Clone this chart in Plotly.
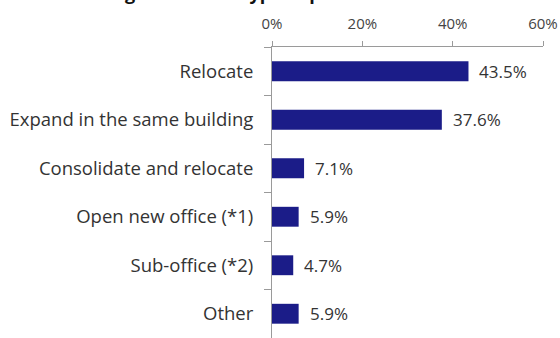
import plotly.graph_objects as go

# Share of respondents by type of plan
categories = [
    "Relocate",
    "Expand in the same building",
    "Consolidate and relocate",
    "Open new office (*1)",
    "Sub-office (*2)",
    "Other",
]
shares = [43.5, 37.6, 7.1, 5.9, 4.7, 5.9]
tick_values = [0, 20, 40, 60]
tick_labels = ["0%", "20%", "40%", "60%"]

BAR_COLOR = "#1b1c88"
TEXT_COLOR = "#333333"
AXIS_COLOR = "#9a9a9a"
FONT = "Open Sans"

fig = go.Figure(
    go.Bar(
        x=shares,
        y=categories,
        orientation="h",
        marker=dict(color=BAR_COLOR, line=dict(width=0)),
        width=0.41,
        hoverinfo="skip",
    )
)

# value labels to the right of each bar
for cat, val in zip(categories, shares):
    fig.add_annotation(
        x=val, y=cat, xref="x", yref="y",
        text=f"{val:.1f}%", showarrow=False,
        xanchor="left", yanchor="middle", xshift=9,
        font=dict(family=FONT, size=17, color=TEXT_COLOR),
    )

# heading, mostly above the top edge of the page
fig.add_annotation(
    x=-0.72, y=1, xref="paper", yref="paper",
    text="<b>Changes in office: type of plan</b>", showarrow=False,
    xanchor="left", yanchor="bottom", yshift=40,
    font=dict(family=FONT, size=18, color="#111111"),
)

fig.update_layout(
    width=560, height=338,
    margin=dict(l=272, r=17, t=47, b=0),
    paper_bgcolor="white", plot_bgcolor="white",
    showlegend=False,
    font=dict(family=FONT, color=TEXT_COLOR),
    xaxis=dict(
        side="top", range=[0, 60],
        tickvals=tick_values, ticktext=tick_labels,
        showgrid=False, zeroline=False,
        showline=True, linecolor=AXIS_COLOR, linewidth=1,
        ticks="outside", ticklen=5, tickcolor=AXIS_COLOR,
        tickfont=dict(family=FONT, size=15, color="#444444"),
        ticklabelstandoff=6,
        fixedrange=True,
    ),
    yaxis=dict(
        autorange="reversed",
        showgrid=False, zeroline=False,
        showline=True, linecolor=AXIS_COLOR, linewidth=1,
        ticks="outside", ticklen=7, tickcolor=AXIS_COLOR,
        tickson="boundaries",
        tickfont=dict(family=FONT, size=18.5, color=TEXT_COLOR),
        ticklabelstandoff=14,
        fixedrange=True,
    ),
)

fig.write_html("out.html")
